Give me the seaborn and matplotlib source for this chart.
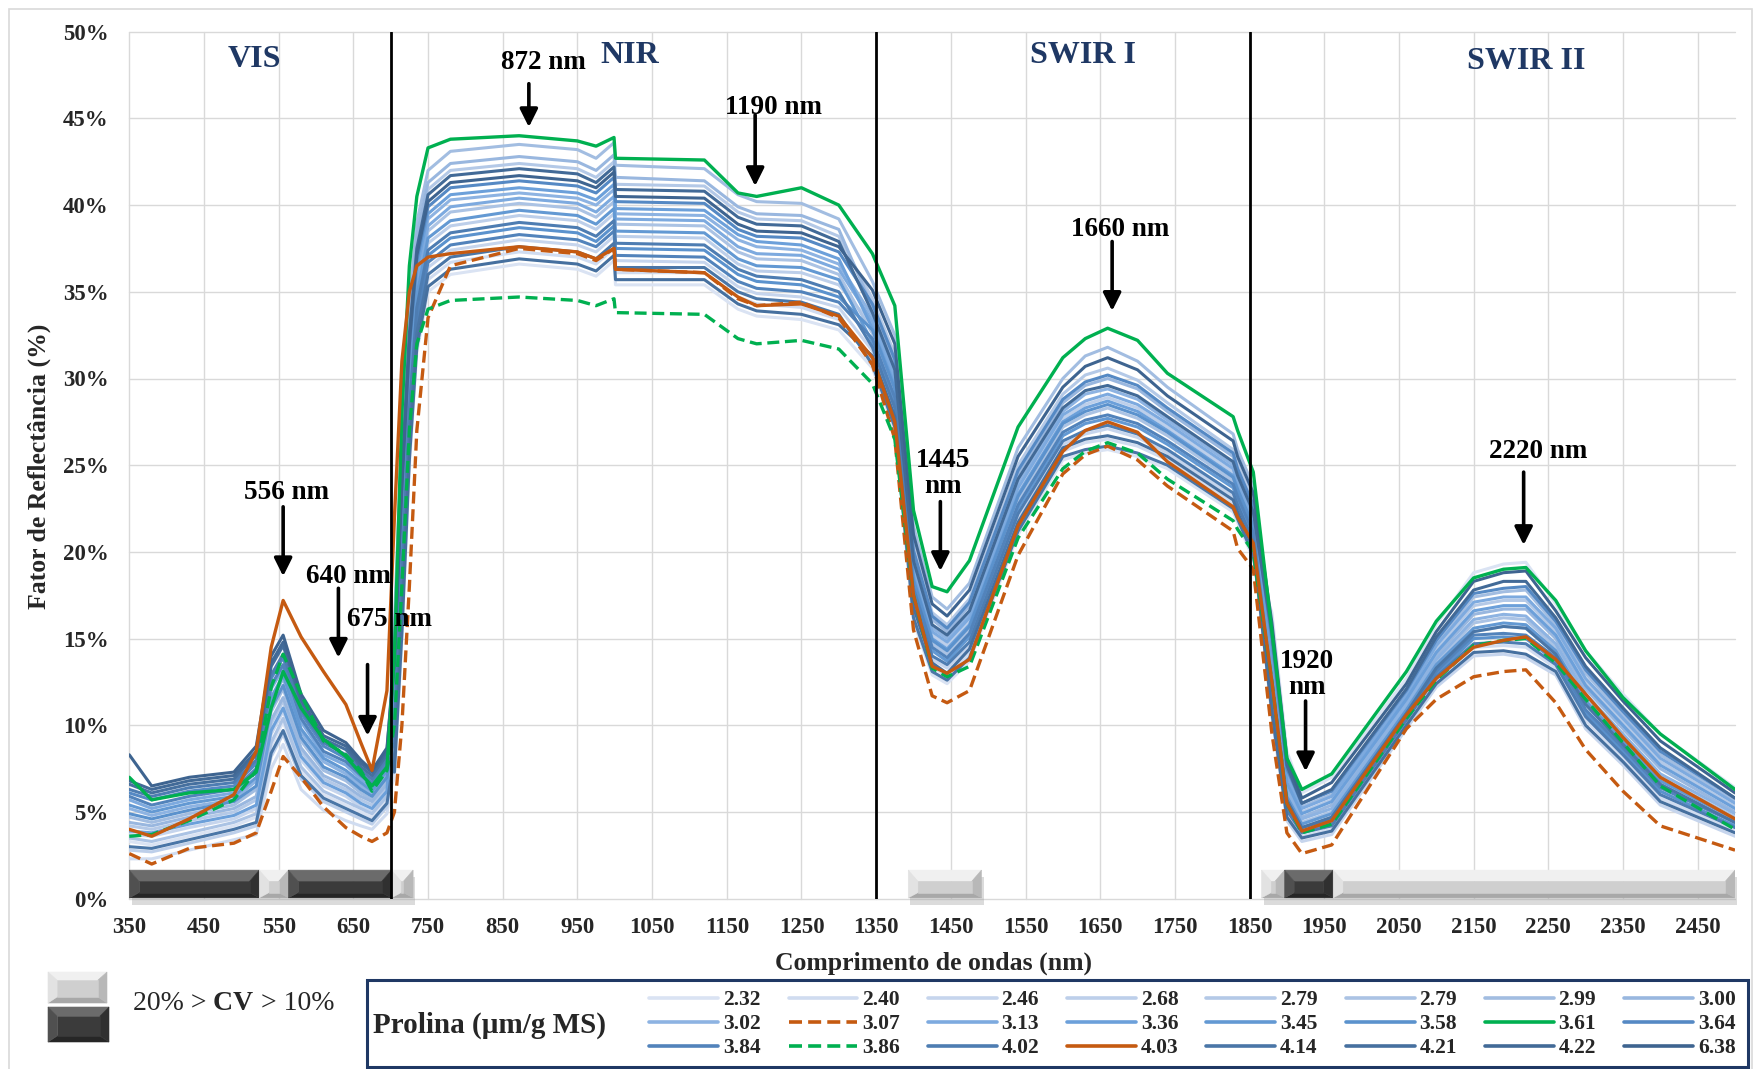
import matplotlib
matplotlib.use("Agg")
import matplotlib.pyplot as plt
import seaborn as sns
from matplotlib.patches import Polygon, Rectangle
from matplotlib.lines import Line2D
from matplotlib.text import Annotation

# ---------------------------------------------------------------- data
wavelength = [350, 380, 430, 490, 520, 540, 556, 580, 610, 640, 660, 675, 695,
              705, 715, 725, 735, 750, 780, 872, 950, 975, 999, 1001, 1120, 1165, 1190, 1250, 1300,
              1345, 1375, 1400, 1425, 1445, 1475, 1540, 1600, 1630, 1660, 1700, 1740, 1828, 1834, 1855,
              1880, 1900, 1920, 1960, 2060, 2100, 2150, 2190, 2220, 2260, 2300, 2350, 2400, 2500]

prolina_labels = ["2.32", "2.40", "2.46", "2.68", "2.79", "2.79", "2.99", "3.00",
                  "3.02", "3.07", "3.13", "3.36", "3.45", "3.58", "3.61", "3.64",
                  "3.84", "3.86", "4.02", "4.03", "4.14", "4.21", "4.22", "6.38"]

refl_2_32 = [3.3, 3.1, 3.6, 4.2, 4.7, 8.8, 10.2, 7.4, 6.0, 5.4, 5.0, 4.7, 5.7,
             7.0, 15.0, 25.0, 31.5, 35.0, 36.0, 36.6, 36.3, 35.9, 36.8, 35.4, 35.4, 34.0, 33.6, 33.4, 32.8,
             30.6, 27.0, 16.0, 12.9, 12.4, 13.7, 21.0, 25.3, 25.7, 25.9, 25.5, 24.8, 22.3, 21.7, 19.6,
             16.5, 8.5, 6.1, 7.0, 12.7, 15.8, 18.8, 19.3, 19.4, 17.0, 14.3, 11.8, 9.5, 6.4]
refl_2_40 = [2.3, 2.3, 2.8, 3.4, 3.7, 7.5, 8.9, 6.3, 5.1, 4.5, 4.2, 4.0, 4.9,
             7.9, 16.2, 26.0, 32.3, 35.7, 36.7, 37.3, 37.0, 36.6, 37.5, 36.1, 36.1, 34.7, 34.3, 34.1, 33.4,
             31.1, 27.6, 16.6, 13.4, 12.8, 14.2, 21.5, 25.8, 26.3, 26.5, 26.1, 25.3, 22.8, 22.1, 20.0,
             11.1, 4.9, 3.6, 4.0, 10.1, 12.6, 14.5, 14.6, 14.5, 13.3, 10.3, 8.1, 5.8, 3.9]
refl_2_46 = [3.7, 3.6, 4.1, 4.6, 5.2, 9.5, 10.8, 8.0, 6.5, 5.9, 5.3, 5.0, 6.0,
             8.8, 17.4, 26.9, 33.0, 36.4, 37.4, 38.0, 37.7, 37.3, 38.2, 36.8, 36.7, 35.3, 34.9, 34.7, 34.1,
             31.6, 28.1, 17.1, 13.8, 13.3, 14.6, 22.0, 26.2, 26.8, 27.1, 26.6, 25.7, 23.2, 22.5, 20.4,
             10.5, 4.5, 3.3, 3.7, 9.8, 12.2, 14.0, 14.1, 13.9, 12.9, 9.8, 7.7, 5.4, 3.6]
refl_2_68 = [2.8, 2.7, 3.2, 3.8, 4.2, 8.2, 9.5, 6.9, 5.6, 5.0, 4.6, 4.3, 5.3,
             10.6, 19.8, 28.8, 34.5, 37.8, 38.8, 39.4, 39.1, 38.6, 39.5, 38.2, 38.1, 36.6, 36.2, 36.1, 35.4,
             33.1, 29.8, 18.8, 15.2, 14.6, 16.0, 23.5, 27.7, 28.5, 28.9, 28.3, 27.2, 24.6, 23.8, 21.7,
             12.3, 5.7, 4.1, 4.7, 10.7, 13.3, 15.4, 15.7, 15.6, 14.1, 11.2, 8.9, 6.6, 4.4]
refl_2_79a = [4.2, 4.0, 4.5, 5.0, 5.7, 10.1, 11.4, 8.5, 6.9, 6.3, 5.7, 5.4, 6.4,
              14.5, 24.9, 32.9, 37.8, 40.9, 42.0, 42.4, 42.1, 41.6, 42.5, 41.2, 41.1, 39.6, 39.2, 39.1, 38.2,
              34.6, 31.4, 20.4, 16.5, 15.8, 17.3, 25.0, 29.1, 30.2, 30.6, 29.9, 28.6, 25.9, 25.1, 23.0,
              14.1, 6.9, 5.0, 5.7, 11.5, 14.4, 16.9, 17.2, 17.2, 15.4, 12.5, 10.2, 7.9, 5.3]
refl_2_79b = [3.5, 3.3, 3.8, 4.4, 4.9, 9.0, 10.4, 7.6, 6.2, 5.6, 5.2, 4.9, 5.9,
              11.5, 21.0, 29.8, 35.3, 38.5, 39.6, 40.1, 39.8, 39.3, 40.2, 38.9, 38.8, 37.3, 36.9, 36.8, 36.0,
              32.6, 29.2, 18.2, 14.7, 14.1, 15.5, 23.0, 27.2, 27.9, 28.3, 27.7, 26.7, 24.1, 23.4, 21.3,
              12.9, 6.1, 4.4, 5.0, 11.0, 13.6, 15.9, 16.2, 16.1, 14.5, 11.6, 9.3, 7.0, 4.7]
refl_2_99 = [4.7, 4.4, 4.9, 5.4, 6.3, 10.8, 12.1, 9.1, 7.4, 6.8, 6.1, 5.7, 6.8,
             16.0, 27.0, 34.5, 39.0, 42.0, 43.1, 43.5, 43.2, 42.7, 43.6, 42.3, 42.1, 40.6, 40.2, 40.1, 39.2,
             35.6, 32.5, 21.5, 17.4, 16.7, 18.2, 26.0, 30.0, 31.3, 31.8, 31.0, 29.5, 26.8, 25.9, 23.8,
             14.7, 7.3, 5.3, 6.0, 11.8, 14.7, 17.4, 17.7, 17.8, 15.8, 13.0, 10.6, 8.3, 5.6]
refl_3_00 = [4.4, 4.2, 4.7, 5.2, 5.9, 10.3, 11.6, 8.7, 7.1, 6.5, 5.9, 5.6, 6.6,
             15.1, 25.8, 33.6, 38.3, 41.3, 42.4, 42.8, 42.5, 42.0, 42.9, 41.6, 41.4, 39.9, 39.5, 39.4, 38.6,
             34.1, 30.9, 19.9, 16.1, 15.4, 16.9, 24.5, 28.6, 29.6, 30.0, 29.4, 28.1, 25.5, 24.6, 22.5,
             13.5, 6.5, 4.7, 5.4, 11.3, 14.0, 16.4, 16.7, 16.7, 15.0, 12.1, 9.8, 7.5, 5.0]
refl_3_02 = [5.2, 4.8, 5.3, 5.7, 6.8, 11.4, 12.7, 9.6, 7.9, 7.2, 6.5, 6.0, 7.2,
             12.4, 22.2, 30.7, 36.0, 39.2, 40.3, 40.7, 40.4, 40.0, 40.9, 39.5, 39.4, 38.0, 37.6, 37.4, 36.6,
             33.6, 30.3, 19.3, 15.6, 15.0, 16.4, 24.0, 28.1, 29.1, 29.4, 28.8, 27.6, 25.0, 24.2, 22.1,
             13.1, 6.3, 4.6, 5.2, 11.2, 13.8, 16.1, 16.4, 16.3, 14.7, 11.8, 9.5, 7.2, 4.9]
refl_3_07 = [2.6, 2.0, 2.9, 3.2, 3.8, 6.2, 8.2, 7.0, 5.3, 4.1, 3.6, 3.3, 3.8,
             5.0, 10.0, 18.0, 27.0, 33.5, 36.5, 37.5, 37.2, 36.8, 37.5, 36.3, 36.1, 34.6, 34.2, 34.4, 33.5,
             30.8, 26.5, 15.5, 11.7, 11.3, 12.0, 19.8, 24.5, 25.6, 26.1, 25.3, 23.8, 21.2, 20.2, 19.0,
             9.5, 3.8, 2.6, 3.1, 9.8, 11.5, 12.8, 13.1, 13.2, 11.3, 8.6, 6.2, 4.2, 2.8]
refl_3_13 = [5.7, 5.2, 5.7, 6.1, 7.3, 12.1, 13.3, 10.2, 8.3, 7.7, 6.9, 6.4, 7.6,
             11.8, 21.3, 30.1, 35.6, 38.8, 39.9, 40.4, 40.1, 39.6, 40.5, 39.2, 39.1, 37.6, 37.2, 37.1, 36.3,
             33.3, 30.0, 19.0, 15.4, 14.8, 16.2, 23.7, 27.9, 28.7, 29.1, 28.5, 27.4, 24.8, 24.0, 21.9,
             14.3, 7.1, 5.2, 5.9, 11.7, 14.6, 17.1, 17.4, 17.4, 15.6, 12.7, 10.4, 8.1, 5.5]
refl_3_36 = [3.9, 3.8, 4.3, 4.8, 5.4, 9.7, 11.0, 8.2, 6.7, 6.1, 5.5, 5.2, 6.2,
             12.7, 22.5, 31.0, 36.3, 39.5, 40.6, 41.0, 40.7, 40.3, 41.2, 39.8, 39.7, 38.3, 37.9, 37.7, 36.9,
             32.9, 29.6, 18.6, 15.0, 14.4, 15.8, 23.3, 27.5, 28.3, 28.7, 28.1, 27.0, 24.4, 23.6, 21.5,
             13.7, 6.7, 4.9, 5.6, 11.5, 14.2, 16.6, 16.9, 16.9, 15.2, 12.3, 10.0, 7.7, 5.2]
refl_3_45 = [5.4, 5.0, 5.5, 5.9, 7.0, 11.6, 12.9, 9.8, 8.1, 7.4, 6.7, 6.2, 7.4,
             10.9, 20.1, 29.1, 34.8, 38.1, 39.1, 39.7, 39.4, 38.9, 39.8, 38.5, 38.4, 36.9, 36.5, 36.4, 35.7,
             32.1, 28.7, 17.7, 14.3, 13.7, 15.1, 22.5, 26.7, 27.4, 27.7, 27.2, 26.2, 23.7, 23.0, 20.9,
             12.5, 5.9, 4.3, 4.9, 10.9, 13.5, 15.6, 15.9, 15.8, 14.3, 11.4, 9.1, 6.8, 4.6]
refl_3_58 = [4.9, 4.6, 5.1, 5.6, 6.5, 11.0, 12.3, 9.3, 7.6, 7.0, 6.3, 5.9, 7.0,
             9.7, 18.6, 27.9, 33.8, 37.1, 38.1, 38.7, 38.4, 37.9, 38.8, 37.5, 37.4, 36.0, 35.6, 35.4, 34.7,
             32.8, 29.4, 18.4, 14.9, 14.3, 15.7, 23.2, 27.4, 28.1, 28.5, 27.9, 26.9, 24.3, 23.6, 21.5,
             11.7, 5.3, 3.9, 4.4, 10.4, 12.9, 15.0, 15.1, 15.0, 13.7, 10.7, 8.5, 6.2, 4.2]
refl_3_61 = [7.0, 5.7, 6.1, 6.3, 7.3, 11.0, 13.1, 11.0, 9.2, 8.2, 7.2, 6.5, 7.6,
             14.0, 28.0, 36.5, 40.5, 43.3, 43.8, 44.0, 43.7, 43.4, 43.9, 42.7, 42.6, 40.7, 40.5, 41.0, 40.0,
             37.2, 34.2, 22.4, 18.0, 17.7, 19.5, 27.2, 31.2, 32.3, 32.9, 32.2, 30.3, 27.8, 27.0, 24.6,
             15.4, 8.1, 6.3, 7.2, 13.1, 16.0, 18.5, 19.0, 19.1, 17.2, 14.3, 11.6, 9.5, 6.3]
refl_3_64 = [6.1, 5.7, 6.2, 6.5, 7.8, 12.7, 13.9, 10.7, 8.8, 8.1, 7.2, 6.7, 7.9,
             13.3, 23.4, 31.7, 36.8, 39.9, 41.0, 41.4, 41.1, 40.7, 41.6, 40.2, 40.1, 38.6, 38.2, 38.1, 37.3,
             34.3, 31.1, 20.1, 16.3, 15.6, 17.1, 24.7, 28.8, 29.8, 30.2, 29.6, 28.3, 25.7, 24.8, 22.7,
             14.9, 7.5, 5.5, 6.2, 12.0, 14.9, 17.6, 17.9, 18.0, 16.0, 13.2, 10.8, 8.5, 5.8]
refl_3_84 = [5.9, 5.4, 5.9, 6.3, 7.5, 12.3, 13.5, 10.4, 8.5, 7.9, 7.1, 6.6, 7.8,
             9.1, 17.7, 27.2, 33.3, 36.7, 37.7, 38.3, 38.0, 37.6, 38.5, 37.1, 37.0, 35.6, 35.2, 35.0, 34.4,
             32.3, 28.9, 17.9, 14.5, 13.9, 15.3, 22.7, 26.9, 27.6, 27.9, 27.4, 26.4, 23.9, 23.2, 21.1,
             11.9, 5.5, 4.1, 4.6, 10.6, 13.1, 15.2, 15.3, 15.2, 13.9, 10.9, 8.7, 6.4, 4.4]
refl_3_86 = [3.6, 3.7, 4.5, 5.7, 7.4, 12.2, 14.1, 11.8, 9.1, 8.3, 7.4, 6.2, 7.4,
             10.0, 18.0, 27.0, 32.0, 34.0, 34.5, 34.7, 34.5, 34.2, 34.6, 33.8, 33.7, 32.3, 32.0, 32.2, 31.7,
             29.7, 26.5, 17.5, 13.3, 12.8, 13.4, 20.8, 24.8, 25.8, 26.3, 25.7, 24.2, 21.8, 21.3, 20.0,
             12.5, 5.5, 3.8, 4.3, 10.4, 12.6, 14.6, 14.9, 15.0, 13.6, 11.5, 9.0, 6.5, 4.0]
refl_4_02 = [6.3, 5.9, 6.4, 6.7, 8.0, 12.9, 14.1, 10.9, 9.0, 8.3, 7.4, 6.9, 8.1,
             10.0, 18.9, 28.2, 34.1, 37.4, 38.4, 39.0, 38.7, 38.2, 39.1, 37.8, 37.7, 36.3, 35.9, 35.7, 35.0,
             31.8, 28.3, 17.3, 14.0, 13.5, 14.8, 22.2, 26.4, 27.0, 27.3, 26.8, 25.9, 23.4, 22.7, 20.6,
             11.3, 5.1, 3.8, 4.2, 10.3, 12.8, 14.7, 14.8, 14.7, 13.5, 10.5, 8.3, 6.0, 4.1]
refl_4_03 = [4.0, 3.6, 4.6, 6.0, 8.5, 14.5, 17.2, 15.1, 13.1, 11.2, 9.0, 7.4, 12.0,
             22.0, 31.0, 35.0, 36.5, 37.0, 37.2, 37.6, 37.3, 36.9, 37.5, 36.3, 36.1, 34.7, 34.2, 34.3, 33.6,
             31.2, 27.5, 17.5, 13.4, 13.0, 13.8, 21.5, 25.8, 27.0, 27.5, 26.9, 25.2, 22.6, 22.0, 20.5,
             12.5, 5.5, 3.9, 4.5, 10.6, 12.7, 14.5, 14.9, 15.1, 13.8, 11.8, 9.3, 7.0, 4.6]
refl_4_14 = [3.0, 2.9, 3.4, 4.0, 4.4, 8.4, 9.7, 7.1, 5.8, 5.2, 4.8, 4.5, 5.5,
             8.2, 16.5, 26.3, 32.6, 36.0, 37.0, 37.6, 37.3, 36.9, 37.8, 36.4, 36.4, 35.0, 34.6, 34.4, 33.7,
             30.8, 27.2, 16.2, 13.1, 12.6, 13.9, 21.2, 25.5, 25.9, 26.1, 25.7, 25.0, 22.5, 21.9, 19.8,
             12.3, 5.7, 4.1, 4.7, 10.7, 13.3, 15.4, 15.7, 15.6, 14.1, 11.2, 8.9, 6.6, 4.4]
refl_4_21 = [6.6, 6.1, 6.6, 6.9, 8.3, 13.4, 14.6, 11.3, 9.2, 8.6, 7.6, 7.1, 8.3,
             7.3, 15.3, 25.3, 31.8, 35.3, 36.3, 36.9, 36.6, 36.2, 37.1, 35.7, 35.7, 34.3, 33.9, 33.7, 33.1,
             31.3, 27.8, 16.8, 13.6, 13.0, 14.4, 21.7, 26.0, 26.5, 26.7, 26.3, 25.5, 23.0, 22.3, 20.2,
             10.7, 4.7, 3.5, 3.9, 10.0, 12.4, 14.2, 14.3, 14.1, 13.1, 10.0, 7.9, 5.6, 3.8]
refl_4_22 = [6.8, 6.3, 6.8, 7.1, 8.5, 13.6, 14.8, 11.5, 9.4, 8.8, 7.8, 7.3, 8.5,
             14.2, 24.6, 32.6, 37.5, 40.6, 41.7, 42.1, 41.8, 41.3, 42.2, 40.9, 40.8, 39.3, 38.9, 38.8, 37.9,
             33.8, 30.5, 19.5, 15.8, 15.2, 16.6, 24.2, 28.3, 29.3, 29.6, 29.0, 27.8, 25.2, 24.4, 22.3,
             15.3, 7.7, 5.5, 6.3, 12.1, 15.1, 17.8, 18.3, 18.3, 16.2, 13.4, 11.0, 8.7, 5.8]
refl_6_38 = [8.3, 6.5, 7.0, 7.3, 8.8, 14.0, 15.2, 11.8, 9.7, 9.0, 8.0, 7.4, 8.7,
             13.6, 23.7, 32.0, 37.1, 40.2, 41.3, 41.7, 41.4, 41.0, 41.9, 40.5, 40.4, 38.9, 38.5, 38.4, 37.6,
             35.1, 32.0, 21.0, 17.0, 16.3, 17.8, 25.5, 29.5, 30.7, 31.2, 30.5, 29.0, 26.4, 25.5, 23.4,
             15.9, 8.1, 5.8, 6.7, 12.4, 15.4, 18.3, 18.8, 18.9, 16.6, 13.9, 11.4, 9.1, 6.1]

reflectance = [refl_2_32, refl_2_40, refl_2_46, refl_2_68, refl_2_79a, refl_2_79b, refl_2_99, refl_3_00,
               refl_3_02, refl_3_07, refl_3_13, refl_3_36, refl_3_45, refl_3_58, refl_3_61, refl_3_64,
               refl_3_84, refl_3_86, refl_4_02, refl_4_03, refl_4_14, refl_4_21, refl_4_22, refl_6_38]

# spectral regions and coefficient-of-variation bands (nm)
region_names = ["VIS", "NIR", "SWIR I", "SWIR II"]
region_bounds = [701, 1350, 1850]
cv_start = [350, 524, 563, 701, 1393, 1866, 1897, 1962]
cv_end = [524, 563, 701, 730, 1491, 1897, 1962, 2500]
cv_class = ["high", "mid", "high", "mid", "mid", "mid", "high", "mid"]

# ---------------------------------------------------------------- styles
series_colors = ["#DAE3F3", "#D0DCF0", "#C6D5ED", "#BDCFEA", "#B4C9E7", "#ABC3E4", "#A2BDE1", "#99B7DF",
                 "#8DB3E2", "#C55A11", "#7DAADF", "#6CA0DA", "#6399D3", "#5B92CD", "#00B050", "#5589C4",
                 "#5283BB", "#00B050", "#4E7DB2", "#C55A11", "#4A76A7", "#46709F", "#426A97", "#3E6490"]
series_dashed = [False] * 24
series_dashed[9] = True
series_dashed[17] = True
highlight = {9, 14, 17, 19}

W_PX, H_PX = 1763, 1069
NAVY = "#1F3864"
SERIF = ["Liberation Serif", "DejaVu Serif"]


def fx(px):
    return px / W_PX


def fy(py):
    return 1 - py / H_PX


sns.set_theme(style="white")
plt.rcParams["font.family"] = SERIF

fig = plt.figure(figsize=(W_PX / 100, H_PX / 100), dpi=100)
ax_left, ax_right, ax_top, ax_bottom = 129.3, 1735.0, 31.7, 898.7
ax = fig.add_axes([fx(ax_left), fy(ax_bottom), fx(ax_right) - fx(ax_left), fy(ax_top) - fy(ax_bottom)])

# ---------------------------------------------------------------- spectra
for i, vals in enumerate(reflectance):
    sns.lineplot(x=wavelength, y=vals, ax=ax, color=series_colors[i],
                 linewidth=2.4 if i in highlight else 2.2, legend=False,
                 zorder=4 if i in highlight else 3)
    line = ax.lines[-1]
    line.set_solid_joinstyle("round")
    line.set_dash_joinstyle("round")
    if series_dashed[i]:
        line.set_dashes([3.6, 1.7])

ax.set_xlim(350, 2500)
ax.set_ylim(0, 50)
xt = list(range(350, 2451, 100))
yt = list(range(0, 51, 5))
ax.set_xticks(xt)
ax.set_yticks(yt)
ax.set_xticklabels([str(v) for v in xt], fontweight="bold", fontsize=16.5)
ax.set_yticklabels([f"{v}%" for v in yt], fontweight="bold", fontsize=16.5)
ax.tick_params(axis="x", length=0, pad=13.5)
ax.tick_params(axis="y", length=0, pad=15)
ax.set_xlabel("")
ax.set_ylabel("")
ax.grid(True, color="#D9D9D9", linewidth=1.0)
ax.set_axisbelow(True)
for gl in ax.get_xgridlines() + ax.get_ygridlines():
    gl.set_clip_on(False)
for sp in ax.spines.values():
    sp.set_visible(False)

for xb in region_bounds:
    ax.axvline(xb, color="black", linewidth=2.0, zorder=6)

# ---------------------------------------------------------------- CV bars
SHADES = {
    "high": dict(face="#3b3b3b", top="#6b6b6b", bottom="#262626", left="#505050", right="#303030"),
    "mid": dict(face="#cfcfcf", top="#f0f0f0", bottom="#a8a8a8", left="#e2e2e2", right="#b8b8b8"),
}


def bevel(add, x0, x1, y0, y1, dx, dy_top, dy_bot, shade, transform, zorder):
    dx = min(dx, (x1 - x0) / 2)
    pieces = [
        ([(x0, y1), (x1, y1), (x1 - dx, y1 - dy_top), (x0 + dx, y1 - dy_top)], shade["top"]),
        ([(x0, y0), (x1, y0), (x1 - dx, y0 + dy_bot), (x0 + dx, y0 + dy_bot)], shade["bottom"]),
        ([(x0, y0), (x0, y1), (x0 + dx, y1 - dy_top), (x0 + dx, y0 + dy_bot)], shade["left"]),
        ([(x1, y0), (x1, y1), (x1 - dx, y1 - dy_top), (x1 - dx, y0 + dy_bot)], shade["right"]),
        ([(x0 + dx, y0 + dy_bot), (x1 - dx, y0 + dy_bot), (x1 - dx, y1 - dy_top), (x0 + dx, y1 - dy_top)],
         shade["face"]),
    ]
    for pts, c in pieces:
        add(Polygon(pts, closed=True, facecolor=c, edgecolor=c, linewidth=0.4,
                    transform=transform, zorder=zorder))


for s, e, c in zip(cv_start, cv_end, cv_class):
    ax.add_patch(Rectangle((s + 3, -0.35), e - s, 1.6, facecolor="#9a9a9a", alpha=0.35,
                           edgecolor="none", zorder=2.5, clip_on=False))
    bevel(ax.add_patch, s, e, 0.05, 1.65, 13, 0.65, 0.3, SHADES[c], ax.transData, 2.8)

# ---------------------------------------------------------------- region titles
region_pos = [(518, 48.4), (1020, 48.6), (1627, 48.6), (2220, 48.3)]
for name, (x, y) in zip(region_names, region_pos):
    ax.text(x, y, name, ha="center", va="center", fontsize=23, fontweight="bold",
            color=NAVY, zorder=8)

# ---------------------------------------------------------------- band annotations
annotations = [
    ("556 nm", 561, 23.4, 556, 22.6, 18.6),
    ("640 nm", 643, 18.6, 630, 17.9, 13.9),
    ("675 nm", 699, 16.1, 669, 13.5, 9.4),
    ("872 nm", 905, 48.2, 885, 47.0, 44.5),
    ("1190 nm", 1213, 45.6, 1188, 45.2, 41.1),
    ("1445\nnm", 1439, 24.5, 1436, 22.9, 18.9),
    ("1660 nm", 1677, 38.6, 1666, 37.9, 33.9),
    ("1920\nnm", 1927, 12.95, 1925, 11.4, 7.35),
    ("2220 nm", 2237, 25.8, 2217, 24.6, 20.4),
]
for txt, tx, ty, axx, y0, y1 in annotations:
    ax.text(tx, ty, txt, ha="center", va="center", fontsize=19.5, fontweight="bold",
            color="black", linespacing=1.05, zorder=8)
    ax.annotate("", xy=(axx, y1), xytext=(axx, y0),
                arrowprops=dict(arrowstyle="-|>,head_length=0.9,head_width=0.45",
                                color="black", lw=2.6, shrinkA=0, shrinkB=0,
                                mutation_scale=12),
                zorder=8)

# ---------------------------------------------------------------- axis titles
fig.text(fx(39), fy(466), "Fator de Reflectância (%)", rotation=90, ha="center", va="center",
         fontsize=18.5, fontweight="bold")
fig.text(fx(933), fy(963), "Comprimento de ondas (nm)", ha="center", va="center",
         fontsize=18.5, fontweight="bold")

# ---------------------------------------------------------------- chart frame
fig.add_artist(Rectangle((fx(9), -0.02), fx(1752) - fx(9), fy(9) + 0.02, transform=fig.transFigure,
                         fill=False, edgecolor="#D9D9D9", linewidth=1.2))

# ---------------------------------------------------------------- series legend
fig.add_artist(Rectangle((fx(366.7), fy(1066.5)), fx(1748) - fx(366.7), fy(980) - fy(1066.5),
                         transform=fig.transFigure, fill=False, edgecolor=NAVY, linewidth=2.2))
fig.text(fx(372.7), fy(1025), "Prolina (µm/g MS)", ha="left", va="center",
         fontsize=21, fontweight="bold")

handles = []
for i in range(24):
    h = Line2D([], [], color=series_colors[i], linewidth=2.6)
    if series_dashed[i]:
        h.set_dashes([3.6, 1.7])
    handles.append(h)
order = [r * 8 + c for c in range(8) for r in range(3)]
fig.legend([handles[i] for i in order], [prolina_labels[i] for i in order], ncol=8,
           loc="upper left", bbox_to_anchor=(fx(649.3), fy(990.3)), frameon=False,
           prop=dict(family=SERIF, weight="bold", size=15.5),
           handlelength=3.2, handletextpad=0.22, columnspacing=1.3, labelspacing=0.18,
           borderpad=0, borderaxespad=0)

# ---------------------------------------------------------------- CV legend
bevel(fig.add_artist, fx(48), fx(107), fy(1003), fy(972), fx(9), fy(972) - fy(980), fy(997) - fy(1003),
      SHADES["mid"], fig.transFigure, 5)
bevel(fig.add_artist, fx(48), fx(109), fy(1042), fy(1007), fx(9), fy(1007) - fy(1016), fy(1036) - fy(1042),
      SHADES["high"], fig.transFigure, 5)
t1 = fig.text(fx(133), fy(1003), "20% >", ha="left", va="center", fontsize=20)
t2 = fig.add_artist(Annotation(" CV", xy=(1, 0), xycoords=t1, va="bottom",
                               ha="left", fontsize=20, fontweight="bold"))
t3 = fig.add_artist(Annotation(" > 10%", xy=(1, 0), xycoords=t2, va="bottom",
                               ha="left", fontsize=20))

fig.savefig("out.png", dpi=100)
